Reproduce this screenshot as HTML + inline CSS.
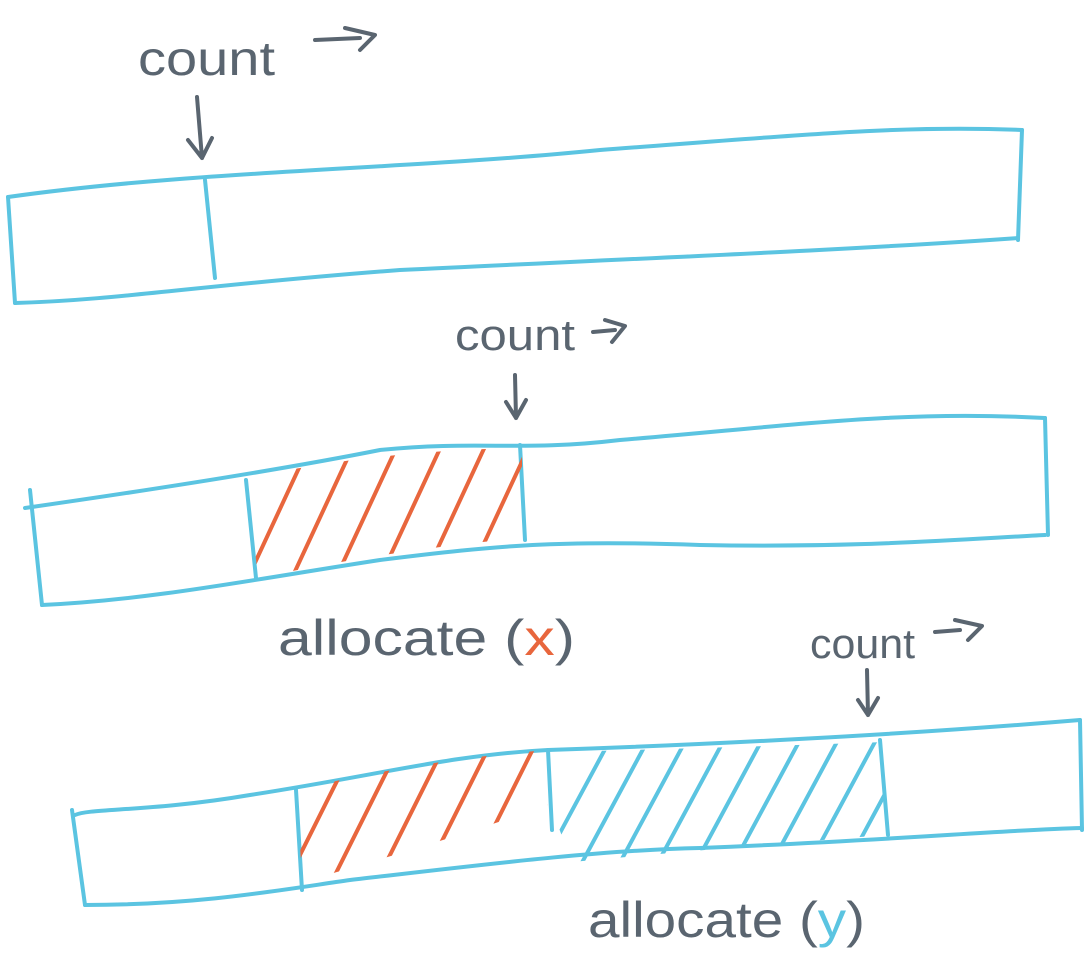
<!DOCTYPE html>
<html><head><meta charset="utf-8">
<style>
html,body{margin:0;padding:0;background:#fff;}
svg{display:block;}
text{font-family:"Liberation Sans",sans-serif;fill:#5a6570;}
</style></head>
<body>
<svg id="s" width="1090" height="955" viewBox="0 0 1090 955" xmlns="http://www.w3.org/2000/svg">
<defs>
<clipPath id="c2"><path d="M247,478 Q380,450 522,448 L522,538 Q390,550 258,578 Z"/></clipPath>
<clipPath id="c3r"><path d="M297,790 Q420,760 548,750 L548,805 Q450,840 302,882 Z"/></clipPath>
<clipPath id="c3b"><path d="M550,752 Q720,748 885,742 L885,835 Q720,848 572,862 L550,805 Z"/></clipPath>
</defs>
<g fill="none" stroke="#5bc4e1" stroke-width="4" stroke-linecap="round" stroke-linejoin="round">
  <path d="M8,197 C200,170 400,170 600,150 C800,135 900,125 1022,130"/>
  <path d="M15,303 C120,300 200,285 400,270 C650,258 850,250 1018,238"/>
  <path d="M8,197 L15,303"/>
  <path d="M1022,130 L1018,240"/>
  <path d="M205,180 L215,278"/>
  <path d="M25,508 C150,490 280,470 380,450 C480,440 520,452 620,440 C800,425 900,410 1045,418"/>
  <path d="M42,605 C150,600 250,580 380,560 C500,545 560,540 700,545 C850,548 950,540 1045,535"/>
  <path d="M30,490 L42,605"/>
  <path d="M1045,418 L1048,535"/>
  <path d="M520,445 L525,540"/>
  <path d="M246,480 L256,578"/>
  <path d="M75,815 C90,808 150,812 250,795 C380,775 450,755 548,750 C700,745 900,735 1080,720"/>
  <path d="M85,905 C200,905 280,890 350,880 C480,865 600,850 700,848 C900,840 1000,830 1082,828"/>
  <path d="M72,810 L85,905"/>
  <path d="M1080,720 L1082,830"/>
  <path d="M296,790 L302,890"/>
  <path d="M548,750 L552,830"/>
  <path d="M880,740 L888,835"/>
</g>
<g id="h2" clip-path="url(#c2)" stroke="#e8663d" stroke-width="4" stroke-linecap="round"></g>
<g id="h3r" clip-path="url(#c3r)" stroke="#e8663d" stroke-width="4" stroke-linecap="round"></g>
<g id="h3b" clip-path="url(#c3b)" stroke="#5bc4e1" stroke-width="4" stroke-linecap="round"></g>
<g stroke="#5a6570" stroke-width="4" fill="none" stroke-linecap="round" stroke-linejoin="round">
  <path d="M315,40 L360,38 M345,28 L375,35 L360,50"/>
  <path d="M197,97 L202,158 M188,140 L202,158 L212,138"/>
  <path d="M593,332 L615,330 M605,320 L625,326 L612,342"/>
  <path d="M515,375 L516,418 M506,402 L516,418 L526,400"/>
  <path d="M935,632 L960,630 M955,620 L982,626 L968,640"/>
  <path d="M867,670 L868,715 M858,700 L868,715 L878,698"/>
</g>
<text x="138" y="75" font-size="48" textLength="137" lengthAdjust="spacingAndGlyphs">count</text>
<text x="455" y="350" font-size="44" textLength="120" lengthAdjust="spacingAndGlyphs">count</text>
<text x="810" y="658" font-size="42" textLength="105" lengthAdjust="spacingAndGlyphs">count</text>
<text x="278" y="655" font-size="50" textLength="297" lengthAdjust="spacingAndGlyphs">allocate (<tspan style="fill:#e8663d">x</tspan>)</text>
<text x="588" y="937" font-size="50" textLength="277" lengthAdjust="spacingAndGlyphs">allocate (<tspan style="fill:#5bc4e1">y</tspan>)</text>
</svg>
<script>
function hatch(id,x0,x1,step,yTop,yBot,slant){
  var g=document.getElementById(id);
  for(var x=x0;x<=x1;x+=step){
    var l=document.createElementNS('http://www.w3.org/2000/svg','line');
    l.setAttribute('x1',x);l.setAttribute('y1',yBot);
    l.setAttribute('x2',x+slant);l.setAttribute('y2',yTop);
    
    
    g.appendChild(l);
  }
}
hatch('h2',240,560,44,440,595,72);
hatch('h3r',280,580,45,745,895,75);
hatch('h3b',540,900,38,740,870,70);
</script>
</body></html>
